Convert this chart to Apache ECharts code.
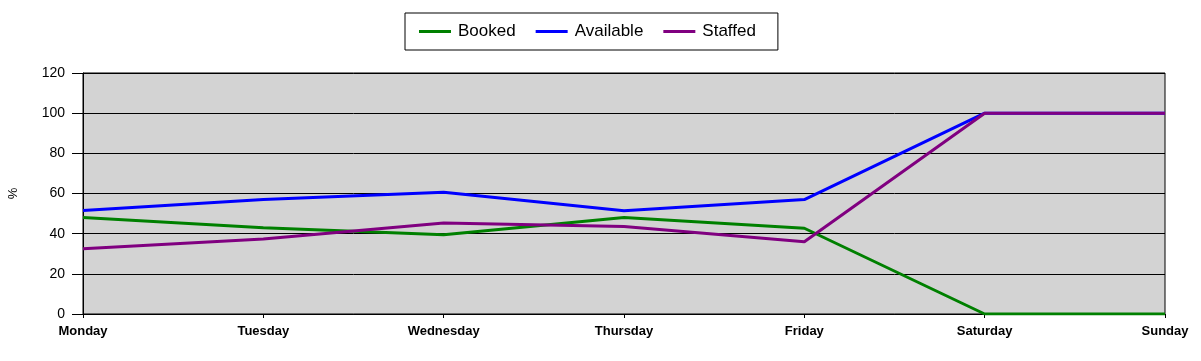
<!DOCTYPE html>
<html><head><meta charset="utf-8">
<script src="https://cdn.jsdelivr.net/npm/echarts@6/dist/echarts.min.js"></script>
<style>html,body{margin:0;padding:0;background:#fff}#c{width:1201px;height:361px}</style>
</head><body><div id="c"></div>
<script>
var categories = ['Monday','Tuesday','Wednesday','Thursday','Friday','Saturday','Sunday'];
var booked = [48, 43, 39.5, 48, 42.7, 0, 0];
var available = [51.5, 57, 60.6, 51.4, 57, 100, 100];
var staffed = [32.5, 37.3, 45.3, 43.6, 36, 100, 100];
var yTicks = [0, 20, 40, 60, 80, 100, 120];

var chart = echarts.init(document.getElementById('c'));
function ser(name, data, color) {
  return {name: name, type: 'line', data: data, symbol: 'none', smooth: false,
    lineStyle: {color: color, width: 3}, itemStyle: {color: color}};
}
chart.setOption({
  animation: false,
  backgroundColor: '#ffffff',
  textStyle: {fontFamily: 'Liberation Sans, Arial, sans-serif'},
  legend: {
    top: 13, left: 405,
    data: ['Booked','Available','Staffed'],
    icon: 'rect', itemWidth: 32, itemHeight: 3, itemGap: 20,
    borderColor: '#000', borderWidth: 1, padding: [10, 22, 10, 14],
    textStyle: {fontSize: 17, color: '#000', padding: [0, 0, 0, 2], fontFamily: 'Liberation Sans, Arial, sans-serif'}
  },
  grid: {left: 83, right: 36, top: 73, bottom: 47, containLabel: false, outerBoundsMode: 'none',
    show: true, backgroundColor: '#d3d3d3', borderColor: '#000', borderWidth: 1},
  xAxis: {
    type: 'category', data: categories, boundaryGap: false,
    axisLine: {lineStyle: {color: '#000'}},
    axisTick: {show: true, length: 4, lineStyle: {color: '#000'}},
    axisLabel: {color: '#000', fontWeight: 'bold', fontSize: 13, margin: 11, interval: 0},
    splitLine: {show: false}
  },
  yAxis: {
    type: 'value', min: 0, max: 120, interval: 20,
    name: '%', nameLocation: 'middle', nameRotate: 90, nameGap: 63,
    nameTextStyle: {color: '#000', fontSize: 13},
    axisLine: {show: true, lineStyle: {color: '#000'}},
    axisTick: {show: true, length: 11, inside: false, lineStyle: {color: '#000'}},
    axisLabel: {color: '#000', fontSize: 14, margin: 18,
      formatter: function (v) { return yTicks.indexOf(v) >= 0 ? String(v) : ''; }},
    splitLine: {show: true, lineStyle: {color: '#000', width: 1}}
  },
  series: [ser('Booked', booked, '#008000'), ser('Available', available, '#0000ff'), ser('Staffed', staffed, '#800080')]
});
</script></body></html>
